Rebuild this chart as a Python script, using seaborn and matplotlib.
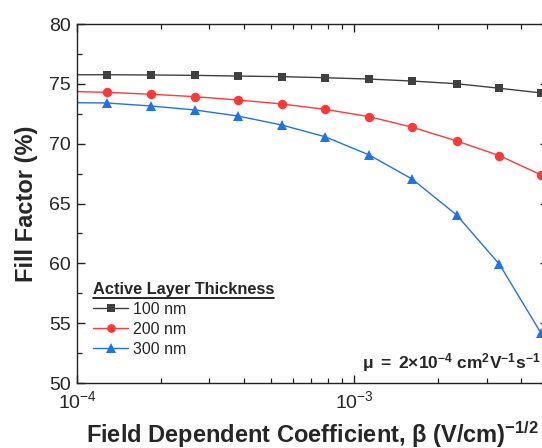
import numpy as np
import pandas as pd
import matplotlib
matplotlib.use("Agg")
import matplotlib.pyplot as plt
import seaborn as sns
from matplotlib.lines import Line2D
from matplotlib.ticker import LogLocator, MultipleLocator, NullFormatter

# ---- data ----
beta = [1.0e-4, 1.28e-4, 1.84e-4, 2.65e-4, 3.80e-4, 5.47e-4, 7.84e-4,
        1.13e-3, 1.62e-3, 2.34e-3, 3.34e-3, 4.72e-3]
ff_100 = [75.76, 75.76, 75.74, 75.71, 75.65, 75.60, 75.51, 75.40, 75.23, 75.01, 74.63, 74.24]
ff_200 = [74.35, 74.29, 74.13, 73.93, 73.65, 73.32, 72.87, 72.26, 71.37, 70.23, 69.00, 67.39]
ff_300 = [73.42, 73.40, 73.15, 72.82, 72.31, 71.56, 70.58, 69.06, 67.03, 64.04, 59.92, 54.16]
series_labels = ["100 nm", "200 nm", "300 nm"]
colors = ["#404040", "#ff3838", "#1f72e8"]
markers = ["s", "o", "^"]
msizes = [6.0, 6.8, 7.2]

sns.set_style("ticks")
plt.rcParams["font.family"] = ["Liberation Sans", "DejaVu Sans"]
plt.rcParams["mathtext.fontset"] = "custom"
plt.rcParams["mathtext.rm"] = "Liberation Sans"
plt.rcParams["mathtext.it"] = "Liberation Sans:italic"
plt.rcParams["mathtext.bf"] = "Liberation Sans:bold"

fig = plt.figure(figsize=(5.42, 4.48), dpi=100)
ax = fig.add_axes([77.3 / 542, 65 / 448, (548 - 77.3) / 542, (383 - 24) / 448])

handles = []
for ys, lab, c, m, ms in zip([ff_100, ff_200, ff_300], series_labels, colors, markers, msizes):
    df = pd.DataFrame({"beta": beta, "ff": ys})
    sns.lineplot(data=df, x="beta", y="ff", ax=ax, color=c, linewidth=1.0,
                 marker=m, markersize=ms, markeredgewidth=0, markevery=list(range(1, len(beta))),
                 legend=False, sort=False)
    handles.append(Line2D([], [], color=c, linewidth=1.0, marker=m, markersize=ms - 0.5,
                          markeredgewidth=0, label=lab))

ax.set_xscale("log")
ax.set_xlim(1e-4, 5e-3)
ax.set_ylim(50, 80)
ax.yaxis.set_major_locator(MultipleLocator(5))
ax.yaxis.set_minor_locator(MultipleLocator(2.5))
ax.xaxis.set_major_locator(LogLocator(base=10, numticks=10))
ax.xaxis.set_minor_locator(LogLocator(base=10, subs=np.arange(2, 10), numticks=20))
ax.xaxis.set_minor_formatter(NullFormatter())

for s in ax.spines.values():
    s.set_linewidth(1.0)
    s.set_color("#222222")
ax.tick_params(which="both", direction="in", top=True, right=True, color="#222222")
ax.tick_params(which="major", length=6, width=1.0, labelsize=14)
ax.tick_params(axis="y", which="major", pad=4.5)
ax.tick_params(axis="x", which="major", pad=5.5)
ax.tick_params(which="minor", length=3.5, width=0.9)

ax.set_xlabel(r"Field Dependent Coefficient, β (V/cm)$^{\mathbf{-1/2}}$",
              fontsize=17, fontweight="bold", labelpad=5)
ax.set_ylabel("Fill Factor (%)", fontsize=17, fontweight="bold", labelpad=8)

leg = ax.legend(handles=handles, title="Active Layer Thickness", loc="lower left",
                bbox_to_anchor=(0.02, 0.055), frameon=False, fontsize=11.5,
                title_fontproperties={"weight": "bold", "size": 11.8},
                handlelength=2.2, handletextpad=0.3, labelspacing=0.32,
                borderaxespad=0.0)
leg._legend_box.align = "left"

ax.text(0.985, 0.058, r"$\mathbf{μ\ =\ 2{×}10^{-4}\ cm^{2}V^{-1}s^{-1}}$",
        transform=ax.transAxes, ha="right", va="center", fontsize=12.5)

fig.canvas.draw()
bb = leg.get_title().get_window_extent()
W, H = fig.bbox.width, fig.bbox.height
yline = bb.y0 - 1
fig.add_artist(Line2D([bb.x0 / W, bb.x1 / W], [yline / H, yline / H],
                      transform=fig.transFigure, color="black", linewidth=1.2))

fig.savefig("out.png", dpi=100)
